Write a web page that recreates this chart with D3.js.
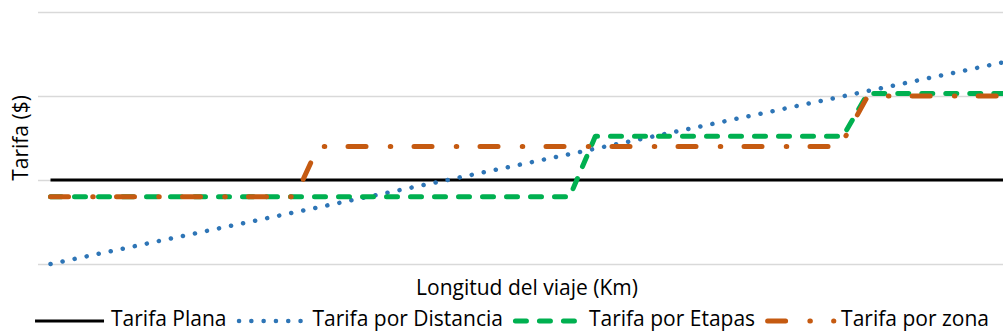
<!DOCTYPE html>
<html>
<head>
<meta charset="utf-8">
<script src="https://cdn.jsdelivr.net/npm/d3@7"></script>
<style>
  html, body { margin: 0; padding: 0; background: #fff; }
  svg { display: block; font-family: "Open Sans", "Liberation Sans", sans-serif; }
</style>
</head>
<body>
<svg id="chart" width="1003" height="336"></svg>
<script>
// Fare schemes by trip length (km)
const gridTicks = [0, 1, 2, 3];

const kmPlana = [0, 100];
const tarifaPlana = [1, 1];

const kmDistancia = [0, 100];
const tarifaDistancia = [0, 2.4];

const kmEtapas = [0, 54.5, 57.2, 83.2, 85.8, 100];
const tarifaEtapas = [0.8, 0.8, 1.52, 1.52, 2.03, 2.03];

const kmZona = [0, 25.7, 28.1, 82.9, 85.8, 100];
const tarifaZona = [0.8, 0.8, 1.4, 1.4, 2.0, 2.0];

const seriesNames = ["Tarifa Plana", "Tarifa por Distancia", "Tarifa por Etapas", "Tarifa por zona"];
const xTitle = "Longitud del viaje (Km)";
const yTitle = "Tarifa ($)";

const series = [
  { name: seriesNames[0], km: kmPlana, v: tarifaPlana, color: "#000000", width: 3, dash: null, cap: "butt" },
  { name: seriesNames[1], km: kmDistancia, v: tarifaDistancia, color: "#2e75b6", width: 4.5, dash: "0.1 12.2", cap: "round" },
  { name: seriesNames[2], km: kmEtapas, v: tarifaEtapas, color: "#00b050", width: 5, dash: "11 13", cap: "round" },
  { name: seriesNames[3], km: kmZona, v: tarifaZona, color: "#c55a11", width: 5, dash: "18 24.25 0.5 23.25", cap: "round" }
];

const svg = d3.select("#chart");
const plotLeft = 38, plotRight = 1003, plotTop = 12, plotBottom = 264;
const fontSize = 21;

const x = d3.scaleLinear().domain([0, 100]).range([50.5, 1003]);
const y = d3.scaleLinear().domain([0, 3]).range([plotBottom, plotTop]);

// horizontal gridlines
const yAxis = d3.axisLeft(y).tickValues(gridTicks).tickSize(-(plotRight - plotLeft)).tickFormat("");
const ga = svg.append("g").attr("transform", `translate(${plotLeft},0)`).call(yAxis);
ga.select(".domain").remove();
ga.selectAll(".tick line").attr("stroke", "#d9d9d9").attr("stroke-width", 1.5);

svg.append("clipPath").attr("id", "plotclip")
  .append("rect").attr("x", 0).attr("y", 0).attr("width", 1003).attr("height", 290);

const line = d3.line().x(d => x(d[0])).y(d => y(d[1]));
const gl = svg.append("g").attr("clip-path", "url(#plotclip)");
series.forEach(s => {
  gl.append("path")
    .datum(s.km.map((k, i) => [k, s.v[i]]))
    .attr("d", line)
    .attr("fill", "none")
    .attr("stroke", s.color)
    .attr("stroke-width", s.width)
    .attr("stroke-linecap", s.cap)
    .attr("stroke-linejoin", "round")
    .attr("stroke-dasharray", s.dash);
});

// axis titles
svg.append("text")
  .attr("x", 527).attr("y", 295)
  .attr("text-anchor", "middle")
  .attr("font-size", fontSize).attr("fill", "#000")
  .text(xTitle);

svg.append("text")
  .attr("transform", `translate(28,${(plotTop + plotBottom) / 2}) rotate(-90)`)
  .attr("text-anchor", "middle")
  .attr("font-size", fontSize).attr("fill", "#000")
  .text(yTitle);

// legend
const legend = svg.append("g");
const symW = 69, symGap = 7, itemGap = 10, legendY = 321;
let cursor = 0;
series.forEach(s => {
  const item = legend.append("g").attr("transform", `translate(${cursor},0)`);
  item.append("line")
    .attr("x1", s.cap === "round" ? 2.5 : 0).attr("x2", s.cap === "round" ? symW - 0.3 : symW)
    .attr("y1", legendY).attr("y2", legendY)
    .attr("stroke", s.color).attr("stroke-width", s.width)
    .attr("stroke-linecap", s.cap)
    .attr("stroke-dasharray", s.dash);
  const t = item.append("text")
    .attr("x", symW + symGap).attr("y", 326)
    .attr("font-size", fontSize).attr("fill", "#000")
    .text(s.name);
  cursor += symW + symGap + t.node().getComputedTextLength() + itemGap;
});
cursor -= itemGap;
legend.attr("transform", `translate(${512 - cursor / 2},0)`);
</script>
</body>
</html>
